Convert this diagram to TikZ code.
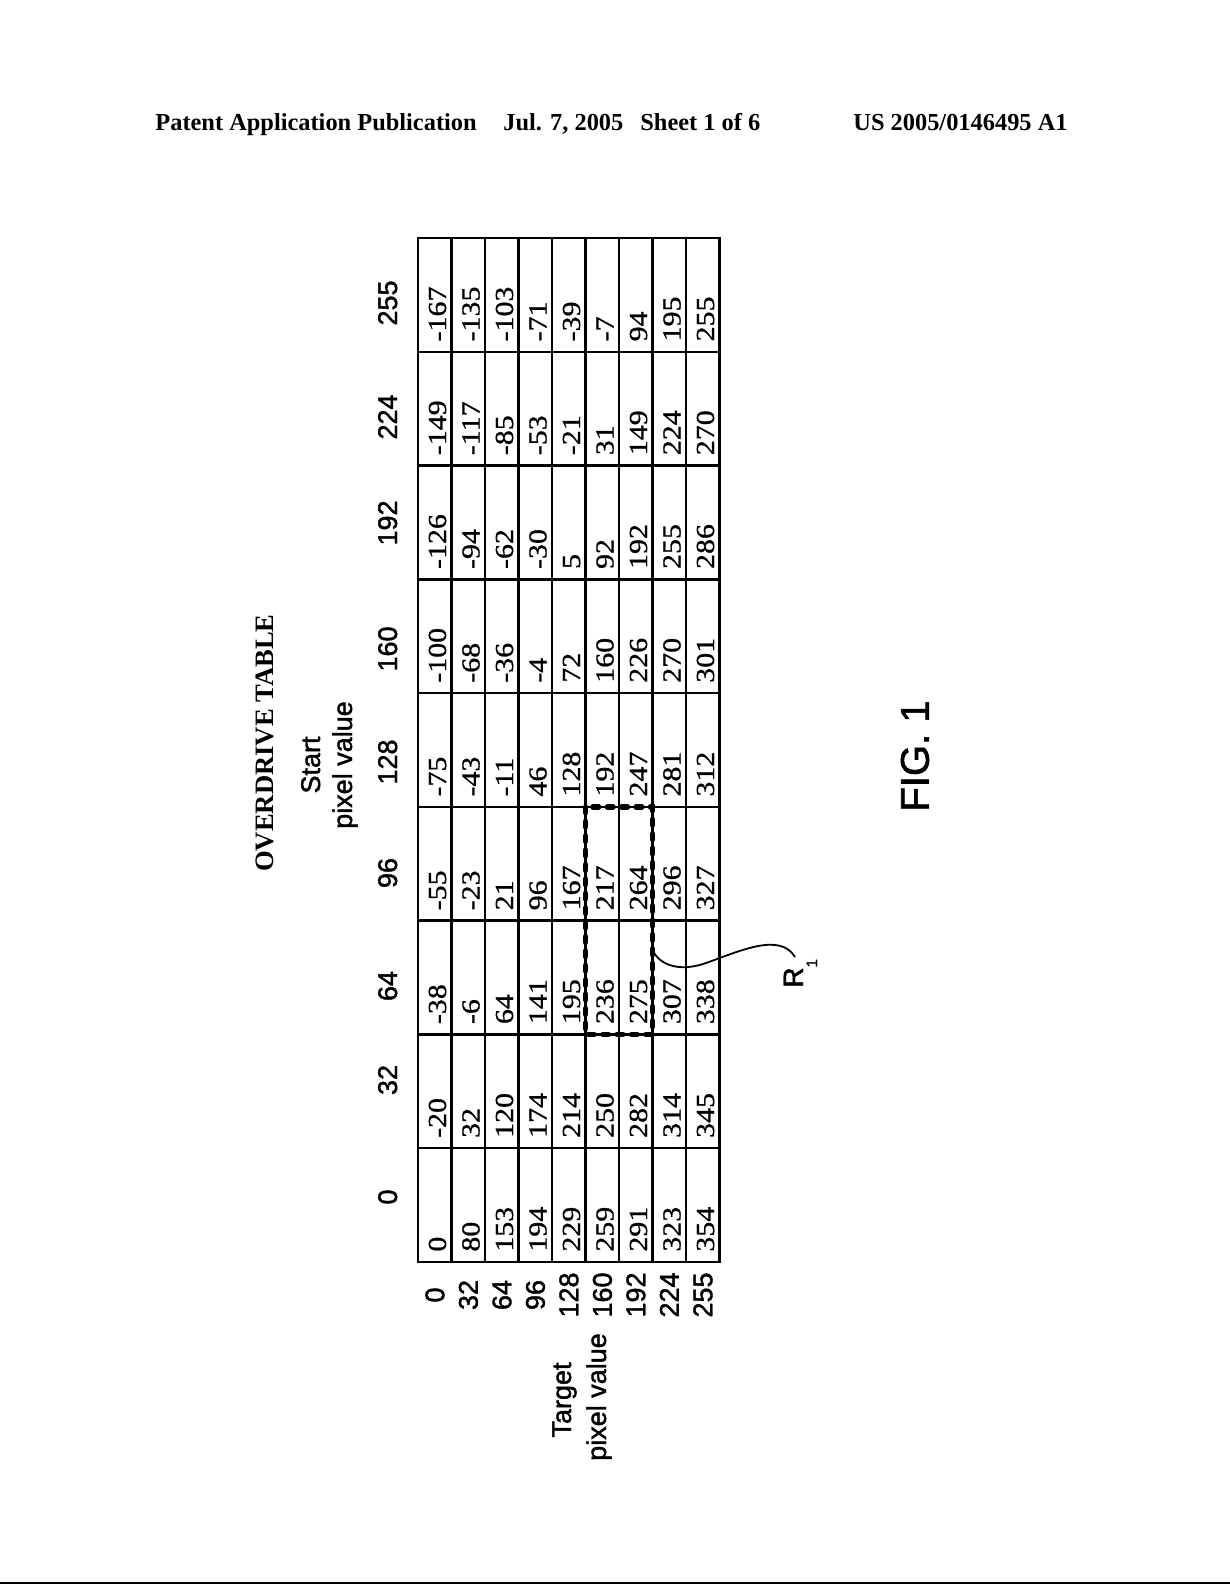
\documentclass[tikz,border=0pt]{standalone}
\usepackage{fontspec}
\setmainfont{Liberation Serif}
\setsansfont{Liberation Sans}
\newfontfamily\cellfont[FakeStretch=1.15, FakeBold=0.8]{Liberation Serif}
\newfontfamily\labfont[FakeBold=1.5]{Liberation Sans}
\begin{document}
\begin{tikzpicture}[x=0.5pt,y=-0.5pt,
  hdr/.style={font=\fontsize{12.2}{14}\selectfont\bfseries, anchor=base west, inner sep=0pt},
  cell/.style={font=\cellfont\fontsize{13}{15}\selectfont, rotate=90, anchor=base west, inner sep=0pt},
  lab/.style={font=\labfont\fontsize{13.5}{16}\selectfont, rotate=90, anchor=base, inner sep=0pt},
  gridline/.style={line width=1.2pt},
  dbox/.style={line width=2.7pt, line cap=round, dash pattern=on 2.9pt off 4.3pt},
  lead/.style={line width=0.9pt}]
\useasboundingbox (0,0) rectangle (1230,1585);
\fill[white] (0,0) rectangle (1230,1585);
% header
\node[hdr] (h1) at (155,130) {Patent Application Publication};
\node[hdr] (h2) at (503,130) {Jul. 7, 2005};
\node[hdr] (h3) at (640,130) {Sheet 1 of 6};
\node[hdr] (h4) at (853,130) {US 2005/0146495 A1};
% titles
\node[font=\bfseries\fontsize{13.3}{16}\selectfont, rotate=90, inner sep=0pt] (title) at (265,743) {OVERDRIVE TABLE};
\node[lab] (st1) at (320,765) {Start};
\node[lab] (st2) at (352,765) {pixel value};
\node[lab] (tg1) at (571,1400) {Target};
\node[lab] (tg2) at (606,1397) {pixel value};
% column labels (start pixel value)
\foreach \v/\yy in {0/1197,32/1080,64/986,96/873,128/762,160/649,192/523,224/417,255/303}
  \node[lab] (col-\v) at (397,\yy) {\v};
% row labels (target pixel value)
\foreach \v [count=\r from 0] in {0,32,64,96,128,160,192,224,255}
  \node[lab] (row-\v) at ({418+33.5*(\r+0.5)+9.5},1295) {\v};
% grid
\foreach \i in {1,...,8}
  \draw[gridline] ({418+33.5*\i},238) -- ({418+33.5*\i},1262);
\foreach \j in {1,...,8}
  \draw[gridline] (418,{238+113.78*\j}) -- (719.5,{238+113.78*\j});
\draw[gridline] (418,238) rectangle (719.5,1262);
% cells: column index c from bottom (start 0) to top (start 255)
\foreach \vals [count=\c from 0] in {
  {0,80,153,194,229,259,291,323,354},
  {-20,32,120,174,214,250,282,314,345},
  {-38,-6,64,141,195,236,275,307,338},
  {-55,-23,21,96,167,217,264,296,327},
  {-75,-43,-11,46,128,192,247,281,312},
  {-100,-68,-36,-4,72,160,226,270,301},
  {-126,-94,-62,-30,5,92,192,255,286},
  {-149,-117,-85,-53,-21,31,149,224,270},
  {-167,-135,-103,-71,-39,-7,94,195,255}}
  \foreach \v [count=\r from 0] in \vals
    \node[cell] (cell-\c-\r) at ({418+33.5*(\r+1)-5.5},{1262-113.78*\c-10}) {\v};
% dashed region R1
\draw[dbox] (585.5,806.9) rectangle (652.5,1034.5);
\coordinate (r1a) at (652.5,950);
\node[font=\labfont\fontsize{14}{16}\selectfont, rotate=90, anchor=base west, inner sep=0pt] (r1) at (803,988) {R\raisebox{-7pt}{\fontsize{7.5}{9}\selectfont 1}};
\coordinate (r1b) at (795,957);
\draw[lead] (r1a) .. controls (661,968) and (684,971) .. (706,963) .. controls (740,951) and (780,932) .. (r1b);
% figure label
\node[font=\labfont\fontsize{20}{24}\selectfont, rotate=90, inner sep=0pt] (fig) at (915,756) {FIG. 1};
% bottom rule
\draw[line width=1pt] (0,1583) -- (1230,1583);
\end{tikzpicture}
\end{document}
